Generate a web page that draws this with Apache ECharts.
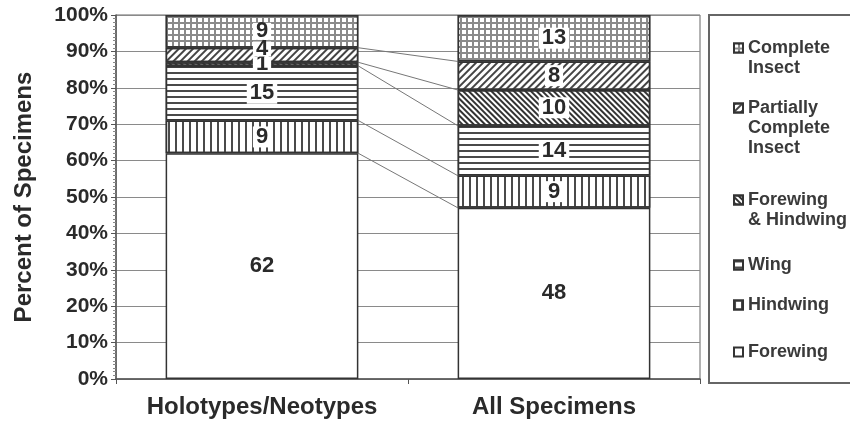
<!DOCTYPE html>
<html>
<head>
<meta charset="utf-8">
<script src="https://cdn.jsdelivr.net/npm/echarts@6/dist/echarts.min.js"></script>
<style>
html,body{margin:0;padding:0;background:#fff;}
#chart{width:850px;height:427px;}
</style>
</head>
<body>
<div id="chart"></div>
<script>
// ---- data ----
const categories = ['Holotypes/Neotypes', 'All Specimens'];
const seriesNames = ['Forewing', 'Hindwing', 'Wing', 'Forewing & Hindwing', 'Partially Complete Insect', 'Complete Insect'];
const legendLabels = ['Forewing', 'Hindwing', 'Wing', 'Forewing\n& Hindwing', 'Partially\nComplete\nInsect', 'Complete\nInsect'];
const forewing = [62, 48];
const hindwing = [9, 9];
const wing = [15, 14];
const foreHind = [1, 10];
const partial = [4, 8];
const complete = [9, 13];
const yMin = 0, yMax = 100, yStep = 10;

const raw = [forewing, hindwing, wing, foreHind, partial, complete];
const totals = categories.map((c, i) => raw.reduce((s, arr) => s + arr[i], 0));
const pct = raw.map(arr => arr.map((v, i) => v / totals[i] * 100));

// cumulative boundaries for connector lines
const boundaries = [];
for (let k = 0; k < raw.length - 1; k++) {
  const cum = categories.map((c, i) => pct.slice(0, k + 1).reduce((s, a) => s + a[i], 0));
  boundaries.push([0, cum[0], cum[1]]);
}

const font = '"Liberation Sans", Arial, sans-serif';
const textColor = '#2a2a2a';

const decals = [
  null,
  { symbol: 'rect', symbolSize: 1, dashArrayX: [2, 4.4], dashArrayY: [10, 0], color: '#4a4a4a' },
  { symbol: 'rect', symbolSize: 1, dashArrayX: [10, 0], dashArrayY: [2, 3.5], color: '#4a4a4a' },
  { symbol: 'rect', symbolSize: 1, dashArrayX: [10, 0], dashArrayY: [1.8, 2], color: '#333', rotation: Math.PI / 4 },
  { symbol: 'rect', symbolSize: 1, dashArrayX: [10, 0], dashArrayY: [1.4, 2.4], color: '#444', rotation: -Math.PI / 4 },
  { symbol: 'rect', symbolSize: 1, dashArrayX: [3.4, 1.6], dashArrayY: [3.4, 1.6], color: '#ffffff' }
];
const fills = ['#ffffff', '#ffffff', '#ffffff', '#ffffff', '#ffffff', '#8a8a8a'];
// label tweaks where segments are too thin for their labels (series index -> category index -> label overrides)
const labelTweak = {
  3: { 0: { lineHeight: 15 } },
  4: { 0: { offset: [0, -6], lineHeight: 15 } },
  5: { 0: { lineHeight: 17 } }
};

const barSeries = seriesNames.map((name, s) => {
  const itemStyle = { color: fills[s], borderColor: '#333', borderWidth: 1.5 };
  if (decals[s]) itemStyle.decal = decals[s];
  return {
    name: name,
    type: 'bar',
    stack: 'total',
    barWidth: '66%',
    itemStyle: itemStyle,
    label: {
      show: true,
      position: 'inside',
      formatter: p => String(raw[s][p.dataIndex]),
      fontFamily: font,
      fontWeight: 'bold',
      fontSize: 22,
      color: textColor,
      backgroundColor: '#ffffff',
      padding: [0, 3, 0, 3],
      lineHeight: 21
    },
    data: pct[s].map((v, i) => {
      const tw = labelTweak[s] && labelTweak[s][i];
      return tw ? { value: v, label: tw } : v;
    })
  };
});

const connector = {
  type: 'custom',
  silent: true,
  z: 1,
  encode: { x: 0, y: 1 },
  data: boundaries,
  renderItem: function (params, api) {
    const band = api.size([1, 0])[0];
    const hw = band * 0.66 / 2;
    const p0 = api.coord([0, api.value(1)]);
    const p1 = api.coord([1, api.value(2)]);
    return {
      type: 'line',
      shape: { x1: p0[0] + hw, y1: p0[1], x2: p1[0] - hw, y2: p1[1] },
      style: { stroke: '#777', lineWidth: 1 }
    };
  }
};

// legend (one component per item so multi-line labels sit like the reference)
const legendFirstLine = { 'Complete Insect': 48, 'Partially Complete Insect': 108, 'Forewing & Hindwing': 200, 'Wing': 265, 'Hindwing': 305, 'Forewing': 352 };
const lh = 20;
const legends = seriesNames.slice().reverse().map(name => {
  const label = legendLabels[seriesNames.indexOf(name)];
  const n = label.split('\n').length;
  const shown = '\n'.repeat(n - 1) + label;
  return {
    data: [{ name: name, icon: 'rect' }],
    orient: 'vertical',
    left: 733,
    top: legendFirstLine[name] - (2 * n - 1) * lh / 2,
    padding: 0,
    itemWidth: 9,
    itemHeight: 9,
    itemGap: 0,
    selectedMode: false,
    formatter: () => shown,
    textStyle: {
      fontFamily: font,
      fontWeight: 'bold',
      fontSize: 18,
      color: '#3a3a3a',
      lineHeight: lh
    }
  };
});

const chart = echarts.init(document.getElementById('chart'), null, { renderer: 'canvas' });
chart.setOption({
  animation: false,
  backgroundColor: '#ffffff',
  grid: { left: 116, right: 150, top: 15, bottom: 48, show: true, borderColor: '#666', borderWidth: 1 },
  legend: legends,
  graphic: [{
    type: 'rect',
    shape: { x: 709, y: 15, width: 200, height: 368 },
    style: { fill: 'none', stroke: '#666', lineWidth: 2 },
    z: -1
  }],
  xAxis: {
    type: 'category',
    data: categories,
    axisLine: { lineStyle: { color: '#555', width: 1.5 } },
    axisTick: { show: true, length: 5, lineStyle: { color: '#555' } },
    axisLabel: { interval: 0, fontFamily: font, fontWeight: 'bold', fontSize: 24, color: textColor, margin: 16 }
  },
  yAxis: {
    type: 'value',
    min: yMin,
    max: yMax,
    interval: yStep,
    name: 'Percent of Specimens',
    nameLocation: 'middle',
    nameGap: 80,
    nameTextStyle: { fontFamily: font, fontWeight: 'bold', fontSize: 24, color: textColor },
    axisLine: { show: true, lineStyle: { color: '#555', width: 1.5 } },
    axisTick: { show: true, length: 5, lineStyle: { color: '#555' } },
    minorTick: { show: true, splitNumber: 10, length: 3, lineStyle: { color: '#888' } },
    splitLine: { show: true, lineStyle: { color: '#8a8a8a', width: 1 } },
    axisLabel: { formatter: '{value}%', fontFamily: font, fontWeight: 'bold', fontSize: 21, color: textColor, margin: 8 }
  },
  series: barSeries.concat([connector])
});
</script>
</body>
</html>
